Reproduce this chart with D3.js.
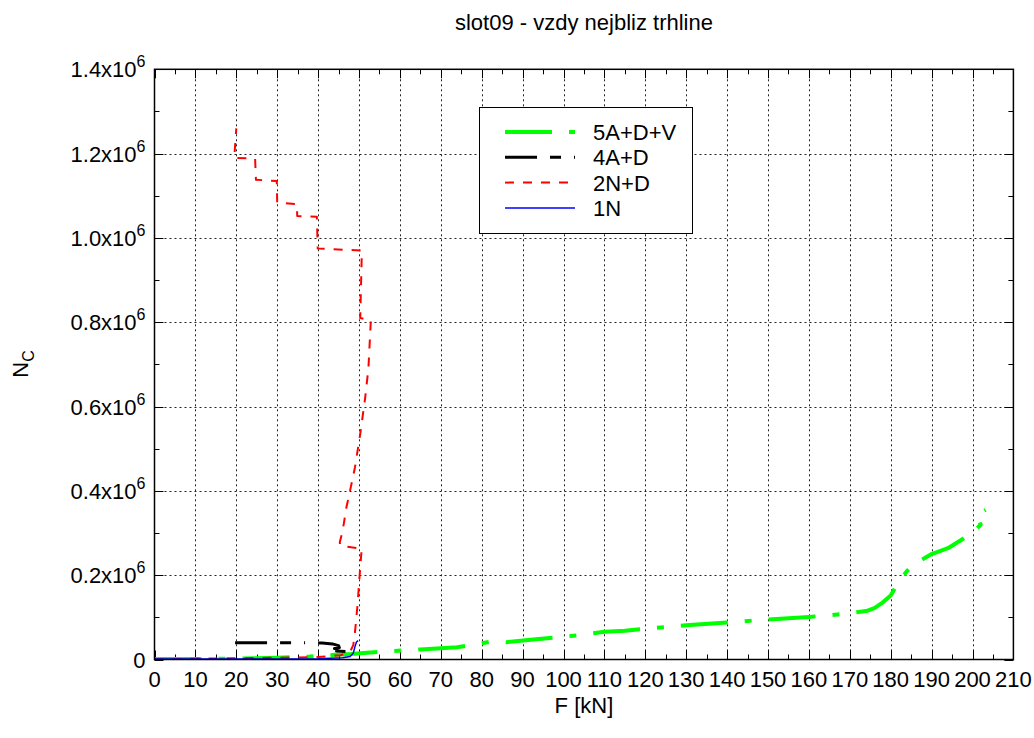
<!DOCTYPE html>
<html>
<head>
<meta charset="utf-8">
<script src="https://cdn.jsdelivr.net/npm/d3@7"></script>
<style>
  html, body { margin: 0; padding: 0; background: #fff; }
  svg { display: block; }
  text { font-family: "Liberation Sans", Arial, sans-serif; fill: #000; }
</style>
</head>
<body>
<div id="chart"></div>
<script>
// Crack-growth life N_C versus load F for four configurations (values in millions of cycles).
const title = "slot09 - vzdy nejbliz trhline";
const xLabel = "F [kN]";
const seriesNames = ["5A+D+V", "4A+D", "2N+D", "1N"];

const xTicks = d3.range(0, 211, 10);
const yTicks = [0, 0.2, 0.4, 0.6, 0.8, 1.0, 1.2, 1.4];

// 5A+D+V
const fGreen = [0, 10, 20, 30, 38, 44, 48, 52, 58, 65, 74, 78, 82, 86, 92, 98, 104, 110, 115, 120, 125, 130, 140, 150, 160, 165, 170, 174, 176, 178, 180, 182, 184, 186, 190, 194, 198, 200, 202, 201, 203.2];
const nGreen = [0.001, 0.001, 0.002, 0.004, 0.007, 0.011, 0.013, 0.016, 0.02, 0.024, 0.029, 0.035, 0.042, 0.041, 0.047, 0.052, 0.058, 0.066, 0.068, 0.073, 0.077, 0.081, 0.088, 0.095, 0.101, 0.105, 0.11, 0.115, 0.122, 0.135, 0.152, 0.185, 0.21, 0.228, 0.25, 0.264, 0.288, 0.3, 0.32, 0.342, 0.355];

// 4A+D
const fBlack = [19.7, 35, 41, 43.5, 45, 45.2, 44, 46, 46.5, 44.5, 47, 47.5, 48, 48.6];
const nBlack = [0.040, 0.0398, 0.0392, 0.037, 0.033, 0.028, 0.026, 0.025, 0.021, 0.020, 0.019, 0.012, 0.006, 0.003];

// 2N+D
const fRed = [0, 10, 20, 30, 40, 45.5, 47.8, 48.6, 49, 49.6, 50.2, 50.66, 45.4, 45.3, 46, 46.9, 47.8, 49, 50.3, 51.5, 52.3, 52.9, 50.3, 50.7, 39.9, 39.7, 34.9, 34.8, 30, 29.9, 24.8, 24.6, 19.5, 20];
const nRed = [0.0, 0.002, 0.003, 0.004, 0.006, 0.010, 0.018, 0.034, 0.063, 0.125, 0.205, 0.263, 0.270, 0.278, 0.305, 0.360, 0.400, 0.455, 0.535, 0.620, 0.690, 0.805, 0.810, 0.970, 0.975, 1.050, 1.052, 1.080, 1.084, 1.135, 1.138, 1.188, 1.190, 1.260];

// 1N
const fBlue = [0, 20, 40, 46, 47.8, 48.6, 49, 49.4, 49.8];
const nBlue = [0.001, 0.001, 0.002, 0.004, 0.007, 0.015, 0.030, 0.042, 0.0445];

const W = 1034, H = 738;
const plot = { left: 154.5, right: 1013.4, top: 69.3, bottom: 659.5 };
const FS = 22;

const x = d3.scaleLinear().domain([0, 210]).range([plot.left, plot.right]);
const y = d3.scaleLinear().domain([0, 1.4]).range([plot.bottom, plot.top]);

const svg = d3.select("#chart").append("svg").attr("width", W).attr("height", H);

// dotted grid
const grid = svg.append("g").attr("stroke", "#222").attr("stroke-width", 1).attr("stroke-dasharray", "2,3");
grid.selectAll("line.gx").data(xTicks.slice(1, -1)).join("line")
  .attr("x1", d => Math.round(x(d)) + 0.5).attr("x2", d => Math.round(x(d)) + 0.5)
  .attr("y1", plot.top).attr("y2", plot.bottom);
grid.selectAll("line.gy").data(yTicks.slice(1, -1)).join("line")
  .attr("y1", d => Math.round(y(d)) + 0.5).attr("y2", d => Math.round(y(d)) + 0.5)
  .attr("x1", plot.left).attr("x2", plot.right);

// inward ticks on all four sides, with minor ticks halfway
const xMinor = d3.range(5, 210, 10);
const yMinor = d3.range(0.1, 1.4, 0.2);
const ticks = svg.append("g").attr("stroke", "#000").attr("stroke-width", 1);
function xTickMarks(vals, len) {
  vals.forEach(v => {
    const px = Math.round(x(v)) + 0.5;
    ticks.append("line").attr("x1", px).attr("x2", px).attr("y1", plot.bottom).attr("y2", plot.bottom - len);
    ticks.append("line").attr("x1", px).attr("x2", px).attr("y1", plot.top).attr("y2", plot.top + len);
  });
}
function yTickMarks(vals, len) {
  vals.forEach(v => {
    const py = Math.round(y(v)) + 0.5;
    ticks.append("line").attr("y1", py).attr("y2", py).attr("x1", plot.left).attr("x2", plot.left + len);
    ticks.append("line").attr("y1", py).attr("y2", py).attr("x1", plot.right).attr("x2", plot.right - len);
  });
}
xTickMarks(xTicks, 9); xTickMarks(xMinor, 5);
yTickMarks(yTicks, 9); yTickMarks(yMinor, 5);

// x tick labels
svg.append("g").selectAll("text").data(xTicks).join("text")
  .attr("x", d => x(d)).attr("y", plot.bottom + 27)
  .attr("text-anchor", "middle").attr("font-size", FS)
  .text(d => d);

// y tick labels: m x10^6
const yl = svg.append("g").selectAll("text").data(yTicks).join("text")
  .attr("x", plot.left - 9).attr("y", d => y(d) + 8)
  .attr("text-anchor", "end").attr("font-size", FS);
yl.each(function(d) {
  const t = d3.select(this);
  if (d === 0) { t.text("0"); return; }
  t.append("tspan").text(d.toFixed(1) + "x10");
  t.append("tspan").attr("dy", -10).attr("font-size", 16).text("6");
});

// titles
svg.append("text").attr("x", (plot.left + plot.right) / 2).attr("y", 30)
  .attr("text-anchor", "middle").attr("font-size", FS).text(title);
svg.append("text").attr("x", (plot.left + plot.right) / 2).attr("y", 713)
  .attr("text-anchor", "middle").attr("font-size", FS).text(xLabel);
const ylab = svg.append("text").attr("transform", "translate(28,364) rotate(-90)")
  .attr("text-anchor", "middle").attr("font-size", FS);
ylab.append("tspan").text("N");
ylab.append("tspan").attr("dy", 6).attr("font-size", 16).text("C");

// series
const styles = [
  { f: fGreen, n: nGreen, color: "#00ff00", width: 4, dash: "47,17,7,17" },
  { f: fBlack, n: nBlack, color: "#000000", width: 3, dash: "32,13,11,13,1,13" },
  { f: fRed, n: nRed, color: "#ff0000", width: 2, dash: "9,9" },
  { f: fBlue, n: nBlue, color: "#0000ff", width: 1.5, dash: null }
];
const line = d3.line().x(d => x(d[0])).y(d => y(d[1]));
svg.append("clipPath").attr("id", "plotclip").append("rect")
  .attr("x", plot.left).attr("y", plot.top - 5).attr("width", plot.right - plot.left).attr("height", plot.bottom - plot.top + 5);
const series = svg.append("g").attr("clip-path", "url(#plotclip)");
styles.forEach(s => {
  series.append("path")
    .attr("d", line(s.f.map((f, i) => [f, s.n[i]])))
    .attr("fill", "none").attr("stroke", s.color).attr("stroke-width", s.width)
    .attr("stroke-dasharray", s.dash).attr("stroke-linejoin", "round");
});

// frame
svg.append("rect").attr("x", plot.left).attr("y", plot.top)
  .attr("width", plot.right - plot.left).attr("height", plot.bottom - plot.top)
  .attr("fill", "none").attr("stroke", "#000").attr("stroke-width", 1.5);

// legend
const lg = svg.append("g");
lg.append("rect").attr("x", 479.5).attr("y", 107.5).attr("width", 213).attr("height", 126)
  .attr("fill", "#fff").attr("stroke", "#000").attr("stroke-width", 1);
styles.forEach((s, i) => {
  const ly = 132 + i * 25.3;
  lg.append("line").attr("x1", 505).attr("x2", 575).attr("y1", ly).attr("y2", ly)
    .attr("stroke", s.color).attr("stroke-width", s.width).attr("stroke-dasharray", s.dash);
  lg.append("text").attr("x", 593).attr("y", ly + 8).attr("font-size", FS).text(seriesNames[i]);
});
</script>
</body>
</html>
